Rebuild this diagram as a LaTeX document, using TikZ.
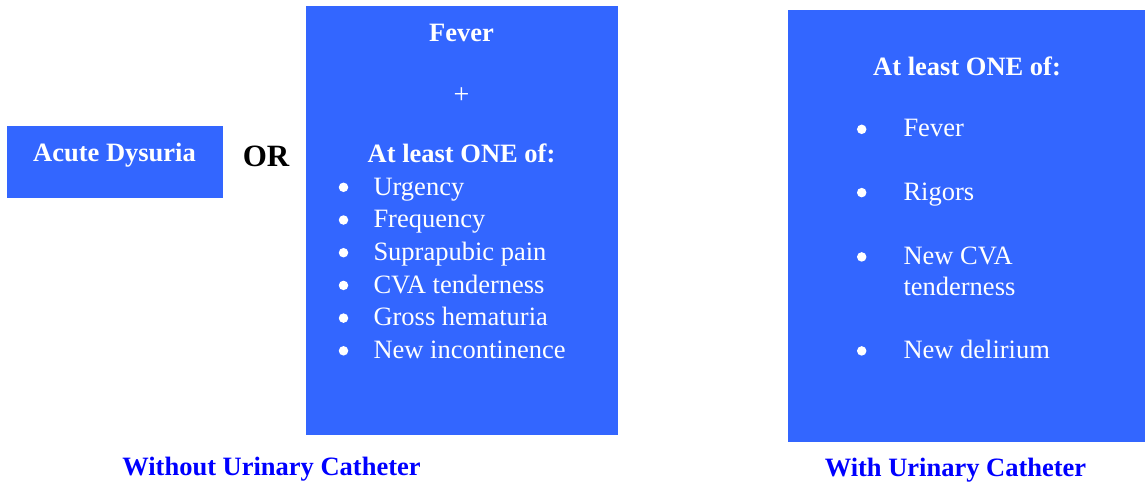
\documentclass[tikz,border=0pt]{standalone}
\usepackage{fontspec}
\setmainfont{LiberationSerif}[Extension=.ttf, UprightFont=*-Regular, BoldFont=*-Bold, ItalicFont=*-Italic, BoldItalicFont=*-BoldItalic]
\definecolor{boxblue}{HTML}{3366FF}
\definecolor{capblue}{HTML}{0000FF}
\tikzset{
  box/.style={fill=boxblue, draw=none, inner sep=0pt, outer sep=0pt, anchor=north west},
  txt/.style={text=white, font=\fontsize{26.5}{32}\selectfont, inner sep=0pt, anchor=base west},
  btxt/.style={text=white, font=\fontsize{26.5}{32}\selectfont\bfseries, inner sep=0pt, anchor=base},
  plustxt/.style={text=white, font=\fontsize{28}{32}\selectfont, inner sep=0pt, anchor=base},
  bul/.style={circle, fill=white, draw=none, inner sep=0pt, minimum size=9.5pt},
  captxt/.style={text=capblue, font=\fontsize{26.5}{32}\selectfont\bfseries, inner sep=0pt, anchor=base},
  ortxt/.style={text=black, font=\fontsize{31}{36}\selectfont\bfseries, inner sep=0pt, anchor=base},
}
\begin{document}
\begin{tikzpicture}[x=1pt,y=-1pt]
\useasboundingbox (0,0) rectangle (1145,483);
% boxes
\node[box, minimum width=215.5pt, minimum height=71.5pt] (dys) at (7,126) {};
\node[box, minimum width=311.5pt, minimum height=429pt] (mid) at (306,6) {};
\node[box, minimum width=357pt, minimum height=431.5pt] (right) at (788,10) {};
% left box
\node[btxt] (dyst) at (114.5,161) {Acute Dysuria};
\node[ortxt] (or) at (266,166.7) {OR};
% middle box
\node[btxt] (fever) at (461.5,41) {Fever};
\node[plustxt] (pl) at (461.5,103) {+};
\node[btxt] (atl1) at (461.5,162.7) {At least ONE of:};
\foreach \t [count=\i] in {Urgency,Frequency,Suprapubic pain,CVA tenderness,Gross hematuria,New incontinence}{
  \node[bul] (mb\i) at (343.5,{187.3+32.7*(\i-1)}) {};
  \node[txt] (mt\i) at (373.3,{195+32.7*(\i-1)}) {\t};
}
% right box
\node[btxt] (atl2) at (967,75) {At least ONE of:};
\node[bul] (rb1) at (861.7,129.3) {};
\node[txt] (rt1) at (903.3,136.7) {Fever};
\node[bul] (rb2) at (861.7,192.6) {};
\node[txt] (rt2) at (903.3,200) {Rigors};
\node[bul] (rb3) at (861.7,256.9) {};
\node[txt] (rt3) at (903.3,264.3) {New CVA};
\node[txt] (rt3b) at (903.3,295) {tenderness};
\node[bul] (rb4) at (861.7,350.9) {};
\node[txt] (rt4) at (903.3,358.3) {New delirium};
% captions
\node[captxt] (cap1) at (271.5,475.5) {Without Urinary Catheter};
\node[captxt] (cap2) at (955.5,476) {With Urinary Catheter};
\end{tikzpicture}
\end{document}
